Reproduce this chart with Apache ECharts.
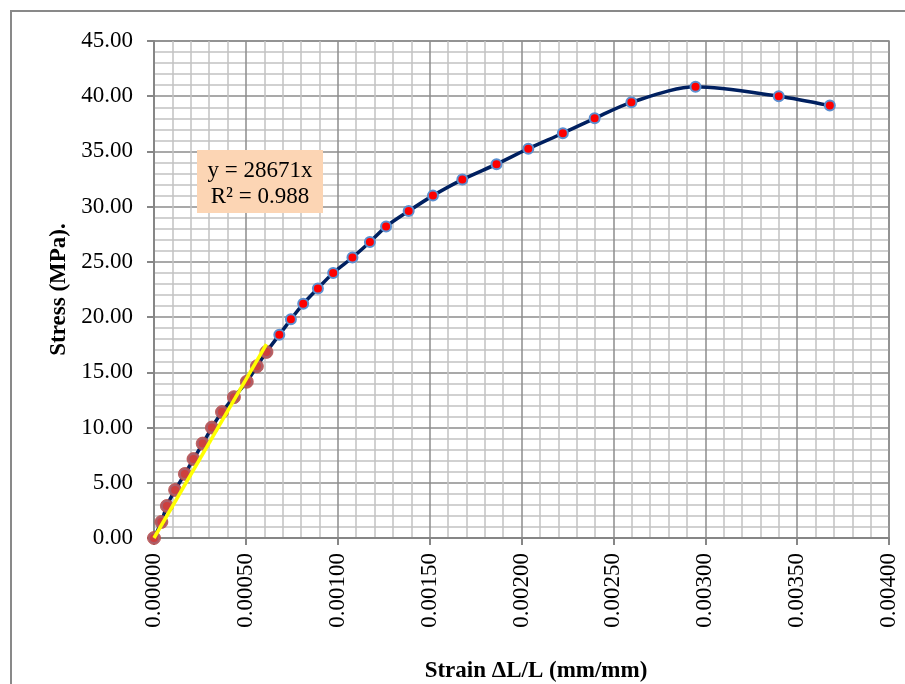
<!DOCTYPE html>
<html>
<head>
<meta charset="utf-8">
<title>Stress-Strain</title>
<script src="https://cdn.jsdelivr.net/npm/echarts@6/dist/echarts.min.js"></script>
<style>
  html, body { margin: 0; padding: 0; background: #ffffff; }
  #chart { width: 905px; height: 684px; }
</style>
</head>
<body>
<div id="chart"></div>
<script>
// Linear (elastic) region readings: strain (mm/mm), stress (MPa)
const elasticStrain = [0, 0.000040, 0.000070, 0.000115, 0.000168, 0.000215, 0.000265,
  0.000315, 0.000370, 0.000435, 0.000505, 0.000560, 0.000612];
const elasticStress = [0, 1.45, 2.90, 4.35, 5.80, 7.15, 8.55, 10.00, 11.40, 12.75,
  14.15, 15.55, 16.85];

// Remaining readings up to failure
const plasticStrain = [0.000682, 0.000745, 0.000812, 0.000892, 0.000975, 0.001080,
  0.001175, 0.001263, 0.001386, 0.001518, 0.001678, 0.001864, 0.002037, 0.002225,
  0.002398, 0.002598, 0.002947, 0.003400, 0.003678];
const plasticStress = [18.40, 19.80, 21.20, 22.60, 24.00, 25.40, 26.80, 28.20, 29.60,
  31.00, 32.45, 33.85, 35.25, 36.65, 38.00, 39.45, 40.85, 40.00, 39.15];

// Linear fit through origin of the elastic region
const trendSlope = 28671;
const trendR2 = 0.988;

// Axis tick settings
const xTicks = { min: 0, max: 0.004, interval: 0.0005, decimals: 5 };
const yTicks = { min: 0, max: 45, interval: 5, decimals: 2 };

const serif = "'Liberation Serif', 'Times New Roman', serif";

const zip = (xs, ys) => xs.map((x, i) => [x, ys[i]]);
const elasticPts = zip(elasticStrain, elasticStress);
const plasticPts = zip(plasticStrain, plasticStress);
const curvePts = elasticPts.concat(plasticPts);
const xEnd = Math.max(...elasticStrain);
const trendPts = [[0, 0], [xEnd, trendSlope * xEnd]];

const chart = echarts.init(document.getElementById('chart'), null, { renderer: 'canvas' });

chart.setOption({
  animation: false,
  backgroundColor: '#ffffff',
  grid: {
    left: 154, right: 16, top: 41, bottom: 146,
    containLabel: false,
    outerBoundsMode: 'none',
    show: true, borderColor: '#8c8c8c', borderWidth: 1.5, backgroundColor: 'transparent'
  },
  xAxis: {
    type: 'value',
    min: xTicks.min, max: xTicks.max, interval: xTicks.interval,
    name: 'Strain ΔL/L (mm/mm)',
    nameLocation: 'middle',
    nameGap: 122,
    nameTextStyle: { fontFamily: serif, fontWeight: 'bold', fontSize: 23, color: '#000', padding: [0, 0, 0, 29] },
    axisLine: { show: true, onZero: false, lineStyle: { color: '#868686', width: 2 } },
    axisTick: { show: true, length: 7, lineStyle: { color: '#868686', width: 2 } },
    minorTick: { show: true, splitNumber: 5, length: 0 },
    axisLabel: {
      rotate: 90, margin: 15, fontFamily: serif, fontSize: 23, color: '#000',
      formatter: v => v.toFixed(xTicks.decimals)
    },
    splitLine: { show: true, lineStyle: { color: '#8c8c8c', width: 1.5 } },
    minorSplitLine: { show: true, lineStyle: { color: '#c2c2c2', width: 1.5 } }
  },
  yAxis: {
    type: 'value',
    min: yTicks.min, max: yTicks.max, interval: yTicks.interval,
    name: 'Stress (MPa).',
    nameLocation: 'middle',
    nameGap: 82,
    nameTextStyle: { fontFamily: serif, fontWeight: 'bold', fontSize: 23, color: '#000' },
    axisLine: { show: true, onZero: false, lineStyle: { color: '#868686', width: 2 } },
    axisTick: { show: true, length: 7, lineStyle: { color: '#868686', width: 2 } },
    minorTick: { show: true, splitNumber: 5, length: 0 },
    axisLabel: {
      margin: 21, fontFamily: serif, fontSize: 23, color: '#000',
      formatter: v => v.toFixed(yTicks.decimals)
    },
    splitLine: { show: true, lineStyle: { color: '#8c8c8c', width: 1.5 } },
    minorSplitLine: { show: true, lineStyle: { color: '#c2c2c2', width: 1.5 } }
  },
  series: [
    {
      name: 'Stress-strain curve',
      type: 'line',
      data: curvePts,
      smooth: 0.3,
      showSymbol: true,
      symbol: 'circle',
      symbolSize: 10,
      lineStyle: { color: '#002060', width: 3.5 },
      itemStyle: { color: '#ff0000', borderColor: '#5b8fd0', borderWidth: 2 },
      z: 2
    },
    {
      name: 'Elastic region',
      type: 'scatter',
      data: elasticPts,
      symbol: 'circle',
      symbolSize: 13,
      itemStyle: { color: '#c0504d', borderColor: '#b84c49', borderWidth: 1 },
      z: 3
    },
    {
      name: 'Linear fit',
      type: 'line',
      data: trendPts,
      showSymbol: false,
      lineStyle: { color: '#ffff00', width: 3.5 },
      z: 4
    }
  ],
  graphic: [
    {
      type: 'rect',
      shape: { x: 11, y: 11, width: 920, height: 700 },
      style: { fill: 'none', stroke: '#898989', lineWidth: 2 },
      silent: true, z: -1
    },
    {
      type: 'rect',
      shape: { x: 197, y: 150, width: 126, height: 63 },
      style: { fill: '#fcd5b4' },
      z: 10
    },
    {
      type: 'text',
      x: 260, y: 171,
      style: {
        text: 'y = ' + trendSlope + 'x', fontFamily: serif, fontSize: 23, fill: '#000',
        align: 'center', verticalAlign: 'middle'
      },
      z: 11
    },
    {
      type: 'text',
      x: 260, y: 197,
      style: {
        text: 'R² = ' + trendR2.toFixed(3), fontFamily: serif, fontSize: 23, fill: '#000',
        align: 'center', verticalAlign: 'middle'
      },
      z: 11
    }
  ]
});
</script>
</body>
</html>
